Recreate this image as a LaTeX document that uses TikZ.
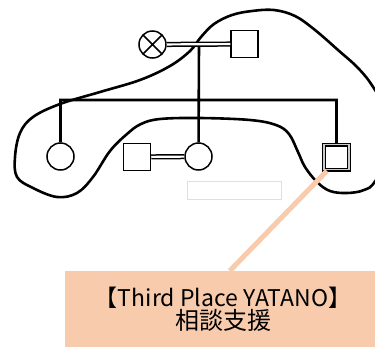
\documentclass[tikz,border=0pt]{standalone}
\usepackage{fontspec}
\newfontfamily\jpfont{Noto Sans CJK JP}
\definecolor{peach}{HTML}{F8CBAD}

\begin{document}
\begin{tikzpicture}[x=1pt,y=-1pt,
      person/.style={draw,line width=1.5pt,fill=white,inner sep=0pt,minimum size=27pt},
      female/.style={person,circle},
      male/.style={person,rectangle},
      deceased/.style={female,path picture={
          \draw[line width=1.5pt] (path picture bounding box.north west) -- (path picture bounding box.south east)
                (path picture bounding box.north east) -- (path picture bounding box.south west);}},
      client/.style={male,double=gray!40,double distance=1.2pt,line width=1.4pt,minimum size=25pt},
      marriage/.style={draw,line width=1.5pt,double=white,double distance=2.2pt},
      kin/.style={draw,line width=2.6pt},
      support/.style={draw=peach,line width=5pt}]
    \useasboundingbox (0,0) rectangle (375,346);
    % support circle round the family
    \draw[line width=2.6pt,line join=round] plot[smooth cycle,tension=0.6] coordinates {
        (15,157) (20,133) (33,117) (60,104) (100,92) (140,80) (170,66) (190,51) (201,37)
        (214,24) (232,15) (252,11) (274,10) (295,16) (315,30) (338,50) (359,69) (375,90)
        (400,135) (376,180) (364,190) (347,193) (330,191) (317,182) (305,167) (298,152)
        (289,134) (276,125) (250,120) (200,118) (160,119) (141,124) (127,134) (110,151)
        (93,177) (77,193) (57,197) (33,188) (17,177)};
    \node[draw=gray!25,line width=0.6pt,minimum width=94pt,minimum height=18pt] (blank) at (234.5,190) {};
    \node[deceased] (mother) at (152.5,44.5) {};
    \node[male] (father) at (244.5,44) {};
    \node[female] (sister) at (60.5,156.5) {};
    \node[male] (husband) at (137,157) {};
    \node[female] (daughter) at (198.5,156.5) {};
    \node[client] (self) at (336.5,157) {};
    \coordinate (parents) at (199,44);
    \coordinate (sibs) at (199,100);
    \path[kin] (parents) -- (daughter)
               (sister) |- (sibs) -| (self);
    \path[marriage] (mother) -- (father)
                    (husband) -- (daughter);
    \node[fill=peach,minimum width=316pt,minimum height=76pt,align=center,inner sep=0pt] (yatano) at (223,309)
        {\jpfont\fontsize{23}{30}\selectfont 【Third Place YATANO】\\
         \jpfont\fontsize{24}{30}\selectfont 相談支援};
    \path (yatano.north west) ++(165,0) coordinate (callout);
    \path[support,shorten >=1pt] (callout) -- (self.-124);
\end{tikzpicture}
\end{document}
